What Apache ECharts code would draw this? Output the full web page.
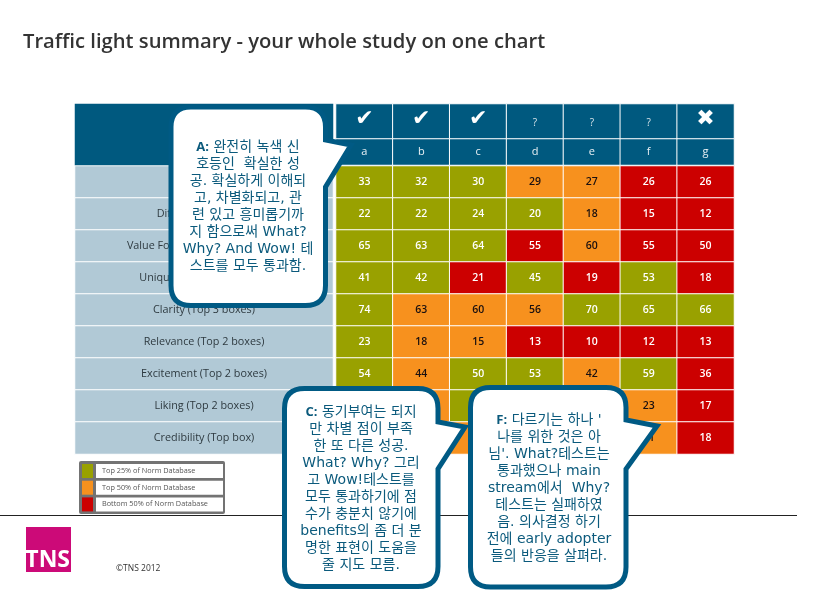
<!DOCTYPE html>
<html lang="en">
<head>
    <meta charset="UTF-8">
    <title>Traffic light summary</title>
    <style>
        html, body { margin: 0; padding: 0; background: #fff; }
        #main { width: 822px; height: 595px; }
    </style>
</head>
<body>
<div id="main"></div>
<script src="https://cdn.jsdelivr.net/npm/echarts@6/dist/echarts.min.js"></script>
<script type="text/javascript">
    var chartTitle = 'Traffic light summary - your whole study on one chart';
    var columns = ['a', 'b', 'c', 'd', 'e', 'f', 'g'];
    var verdicts = ['✔', '✔', '✔', '?', '?', '?', '✖'];
    var rowLabels = [
        '',
        'Different (Top box)',
        'Value For Money (Top 2 boxes)',
        'Uniqueness (Top 2 boxes)',
        'Clarity (Top 3 boxes)',
        'Relevance (Top 2 boxes)',
        'Excitement (Top 2 boxes)',
        'Liking (Top 2 boxes)',
        'Credibility (Top box)'
    ];
    // null = hidden behind a callout in the picture
    var scores = [
        [33, 32, 30, 29, 27, 26, 26],
        [22, 22, 24, 20, 18, 15, 12],
        [65, 63, 64, 55, 60, 55, 50],
        [41, 42, 21, 45, 19, 53, 18],
        [74, 63, 60, 56, 70, 65, 66],
        [23, 18, 15, 13, 10, 12, 13],
        [54, 44, 50, 53, 42, 59, 36],
        [null, null, null, null, null, 23, 17],
        [null, null, null, null, null, 21, 18]
    ];
    // g = top 25%, o = top 50%, r = bottom 50%
    var lights = [
        ['g', 'g', 'g', 'o', 'o', 'r', 'r'],
        ['g', 'g', 'g', 'g', 'o', 'r', 'r'],
        ['g', 'g', 'g', 'r', 'o', 'r', 'r'],
        ['g', 'g', 'r', 'g', 'r', 'g', 'r'],
        ['g', 'o', 'o', 'o', 'g', 'g', 'g'],
        ['g', 'o', 'o', 'r', 'r', 'r', 'r'],
        ['g', 'o', 'g', 'g', 'o', 'g', 'r'],
        ['g', 'o', 'g', 'g', 'o', 'o', 'r'],
        ['g', 'o', 'o', 'o', 'o', 'o', 'r']
    ];
    var legendTexts = ['Top 25% of Norm Database', 'Top 50% of Norm Database', 'Bottom 50% of Norm Database'];
    var legendKeys = ['g', 'o', 'r'];
    var calloutA = '{b|A:} 완전히 녹색 신\n호등인  확실한 성\n공. 확실하게 이해되\n고, 차별화되고, 관\n련 있고 흥미롭기까\n지 함으로써 What?\nWhy? And Wow! 테\n스트를 모두 통과함.';
    var calloutC = '{b|C:} 동기부여는 되지\n만 차별 점이 부족\n한 또 다른 성공.\nWhat? Why? 그리\n고 Wow!테스트를\n모두 통과하기에 점\n수가 충분치 않기에\nbenefits의 좀 더 분\n명한 표현이 도움을\n줄 지도 모름.';
    var calloutF = '{b|F:} 다르기는 하나 \'\n나를 위한 것은 아\n님\'. What?테스트는\n통과했으나 main\nstream에서  Why?\n테스트는 실패하였\n음. 의사결정 하기\n전에 early adopter\n들의 반응을 살펴라.';

    var BLUE = '#00597f';
    var PANEL = '#b1c9d6';
    var COLORS = { g: '#99a100', o: '#f7911e', r: '#cc0000' };
    var FONT = '"Open Sans", "Noto Sans CJK KR", sans-serif';
    var KR_FONT = '"DejaVu Sans", "Noto Sans CJK KR", sans-serif';

    // speech bubble: rounded box with a pointed tail on the right side
    echarts.graphic.registerShape('callout', echarts.graphic.extendShape({
        type: 'callout',
        shape: { l: 0, t: 0, r: 0, b: 0, rad: 20, y1: 0, tipX: 0, tipY: 0, y2: 0 },
        buildPath: function (ctx, s) {
            ctx.moveTo(s.l + s.rad, s.t);
            ctx.lineTo(s.r - s.rad, s.t);
            ctx.quadraticCurveTo(s.r, s.t, s.r, s.t + s.rad);
            ctx.lineTo(s.r, s.y1);
            ctx.lineTo(s.tipX, s.tipY);
            ctx.lineTo(s.r, s.y2);
            ctx.lineTo(s.r, s.b - s.rad);
            ctx.quadraticCurveTo(s.r, s.b, s.r - s.rad, s.b);
            ctx.lineTo(s.l + s.rad, s.b);
            ctx.quadraticCurveTo(s.l, s.b, s.l, s.b - s.rad);
            ctx.lineTo(s.l, s.t + s.rad);
            ctx.quadraticCurveTo(s.l, s.t, s.l + s.rad, s.t);
            ctx.closePath();
        }
    }));

    var myChart = echarts.init(document.getElementById('main'), null, { renderer: 'canvas' });

    // every block of the table gets its own grid, the rows are not all the same height
    var grids = [
        { left: 336, top: 166, width: 398, height: 288 },  // scores
        { left: 336, top: 104, width: 398, height: 35 },   // verdict row
        { left: 336, top: 139, width: 398, height: 26 },   // letter row
        { left: 75, top: 166, width: 258, height: 288 },   // row labels
        { left: 75, top: 104, width: 258, height: 61 }     // empty dark corner
    ];
    var xAxes = [], yAxes = [];
    function addAxes(gridIndex, xData, yData) {
        xAxes.push({ type: 'category', gridIndex: gridIndex, data: xData, show: false });
        yAxes.push({ type: 'category', gridIndex: gridIndex, data: yData, show: false, inverse: true });
    }
    addAxes(0, columns, rowLabels);
    addAxes(1, columns, ['verdict']);
    addAxes(2, columns, ['letter']);
    addAxes(3, ['label'], rowLabels);
    addAxes(4, ['corner'], ['corner']);

    var scoreData = [];
    scores.forEach(function (row, r) {
        row.forEach(function (v, c) {
            scoreData.push({
                value: [c, r, v === null ? 0 : v],
                itemStyle: { color: COLORS[lights[r][c]] },
                label: { color: lights[r][c] === 'o' ? '#1a1010' : '#ffffff' }
            });
        });
    });

    function heat(gridIndex, data, label) {
        return {
            type: 'heatmap',
            xAxisIndex: gridIndex,
            yAxisIndex: gridIndex,
            data: data,
            progressive: 0,
            animation: false,
            itemStyle: { borderColor: '#fff', borderWidth: 1 },
            emphasis: { disabled: true },
            label: label
        };
    }

    var series = [
        heat(0, scoreData, {
            show: true, fontFamily: FONT, fontSize: 10.5, fontWeight: 600,
            formatter: function (p) {
                var v = scores[p.value[1]][p.value[0]];
                return v === null ? '' : String(v);
            }
        }),
        heat(1, verdicts.map(function (v, c) {
            return { value: [c, 0, 1], itemStyle: { color: BLUE } };
        }), {
            show: true, color: '#fff',
            formatter: function (p) {
                var v = verdicts[p.value[0]];
                return v === '?' ? '{q|?}' : '{m|' + v + '}';
            },
            rich: {
                q: { fontFamily: FONT, fontSize: 10, color: '#d8e4ea', padding: [4, 0, 0, 0] },
                m: { fontFamily: 'DejaVu Sans', fontSize: 22, color: '#fff', padding: [0, 0, 5, 0] }
            }
        }),
        heat(2, columns.map(function (v, c) {
            return { value: [c, 0, 1], itemStyle: { color: BLUE } };
        }), {
            show: true, color: '#e8f0f4', fontFamily: FONT, fontSize: 11,
            formatter: function (p) { return columns[p.value[0]]; }
        }),
        heat(3, rowLabels.map(function (v, r) {
            return { value: [0, r, 1], itemStyle: { color: PANEL } };
        }), {
            show: true, color: '#2e3a40', fontFamily: FONT, fontSize: 10.8,
            formatter: function (p) { return rowLabels[p.value[1]]; }
        }),
        heat(4, [{ value: [0, 0, 1], itemStyle: { color: BLUE, borderWidth: 0 } }], { show: false })
    ];

    function callout(box, text, cx, cy) {
        return [{
            type: 'callout', z: 100,
            shape: box,
            style: { fill: '#fff', stroke: '#005a84', lineWidth: 5, lineJoin: 'miter' }
        }, {
            type: 'text', z: 101, x: cx, y: cy,
            style: {
                text: text, fill: '#0b5a7c', align: 'center', verticalAlign: 'middle',
                font: '14px ' + KR_FONT, lineHeight: 17,
                rich: { b: { font: 'bold 13px ' + FONT, fill: '#0b5a7c', lineHeight: 17 } }
            }
        }];
    }

    var graphics = [
        // footer rule
        { type: 'line', z: 1, shape: { x1: 0, y1: 515.5, x2: 797, y2: 515.5 }, style: { stroke: '#222', lineWidth: 1 } },
        // legend box
        { type: 'rect', z: 10, shape: { x: 79, y: 461, width: 146, height: 53, r: 2 }, style: { fill: '#737373' } },
        // logo
        { type: 'rect', z: 10, shape: { x: 26, y: 527, width: 45, height: 45 }, style: { fill: '#cc0a78' } },
        { type: 'text', z: 11, x: 70, y: 560, style: { text: 'TNS', fill: '#fff', font: 'bold 23px "Liberation Sans Narrow", "Open Sans", sans-serif', align: 'right', verticalAlign: 'middle' } },
        { type: 'text', z: 11, x: 116, y: 569, style: { text: '©TNS 2012', fill: '#333', font: '8.5px "Open Sans", sans-serif', verticalAlign: 'middle' } }
    ];
    legendTexts.forEach(function (t, i) {
        var y = 464 + i * 16.7;
        graphics.push({ type: 'rect', z: 11, shape: { x: 82, y: y, width: 11, height: 14 }, style: { fill: COLORS[legendKeys[i]] } });
        graphics.push({ type: 'rect', z: 11, shape: { x: 96, y: y, width: 127, height: 14 }, style: { fill: '#fff' } });
        graphics.push({ type: 'text', z: 12, x: 102, y: y + 7, style: { text: t, fill: '#555', font: '7.3px "Open Sans", sans-serif', verticalAlign: 'middle' } });
    });
    graphics = graphics.concat(
        callout({ l: 171, t: 107, r: 325.5, b: 305.5, rad: 20, y1: 140, tipX: 351, tipY: 145, y2: 187 }, calloutA, 248, 207),
        callout({ l: 284.5, t: 388.5, r: 438, b: 586.5, rad: 20, y1: 422, tipX: 465, tipY: 427, y2: 469 }, calloutC, 361, 489),
        callout({ l: 470.5, t: 387.5, r: 626, b: 587, rad: 20, y1: 420, tipX: 657, tipY: 426, y2: 469 }, calloutF, 549, 488)
    );

    var option = {
        animation: false,
        backgroundColor: '#fff',
        title: {
            text: chartTitle, left: 18, top: 27,
            textStyle: { fontFamily: FONT, fontSize: 20.2, fontWeight: 600, color: '#333' }
        },
        tooltip: { show: false },
        grid: grids,
        xAxis: xAxes,
        yAxis: yAxes,
        series: series,
        graphic: { elements: graphics }
    };
    myChart.setOption(option);
</script>
</body>
</html>
